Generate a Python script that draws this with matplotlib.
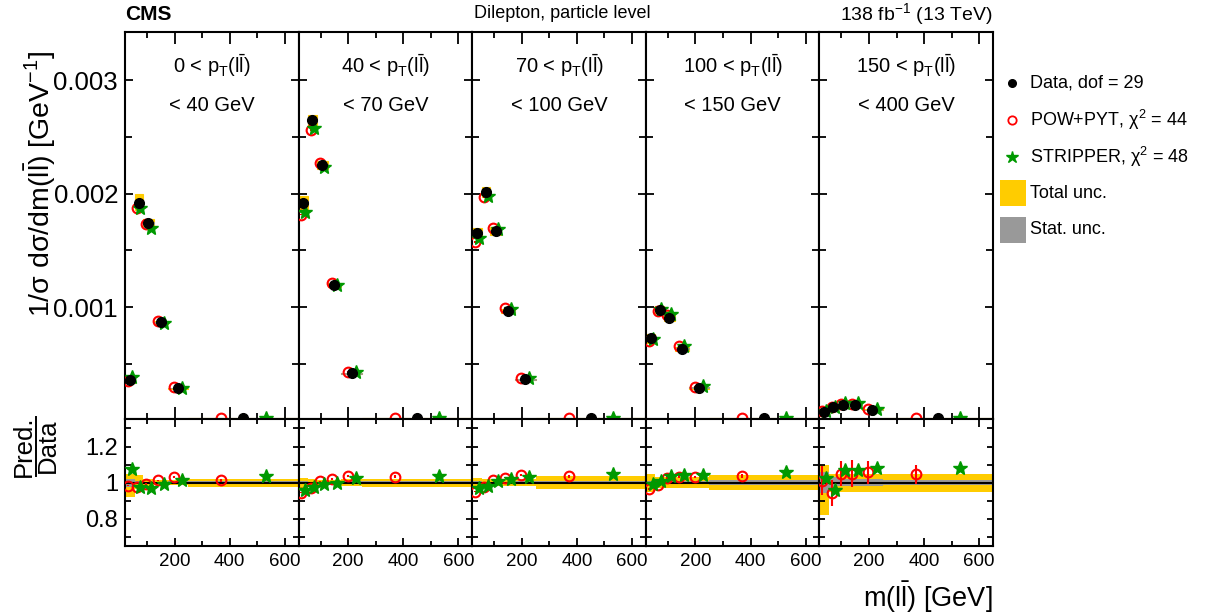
import matplotlib
matplotlib.use('Agg')
import matplotlib.pyplot as plt
import numpy as np
from matplotlib.patches import Rectangle
from matplotlib.lines import Line2D
from matplotlib.ticker import MultipleLocator, FixedLocator, FixedFormatter, FuncFormatter

plt.rcParams['font.family'] = ['Liberation Sans', 'DejaVu Sans']
plt.rcParams['mathtext.fontset'] = 'custom'
plt.rcParams['mathtext.rm'] = 'Liberation Sans'
plt.rcParams['mathtext.it'] = 'Liberation Sans:italic'
plt.rcParams['mathtext.bf'] = 'Liberation Sans:bold'
plt.rcParams['mathtext.sf'] = 'Liberation Sans'

# ---------------- data ----------------
mll_edges = [20, 55, 85, 125, 175, 250, 650]
pt_low = ['0', '40', '70', '100', '150']
pt_high = ['40', '70', '100', '150', '400']

data_vals = [
    [0.000359, 0.001921, 0.001745, 0.000868, 0.000285, 0.0000220],
    [0.001921, 0.002645, 0.002251, 0.001191, 0.000415, 0.0000240],
    [0.001657, 0.002015, 0.001671, 0.000965, 0.000362, 0.0000230],
    [0.000726, 0.000977, 0.000906, 0.000633, 0.000291, 0.0000230],
    [0.0000795, 0.000124, 0.000141, 0.000141, 0.0000944, 0.0000236],
]
powpyt_vals = [
    [0.000353, 0.001873, 0.001733, 0.000878, 0.000294, 0.0000223],
    [0.001815, 0.002560, 0.002265, 0.001212, 0.000430, 0.0000248],
    [0.001574, 0.001971, 0.001696, 0.000992, 0.000377, 0.0000238],
    [0.000701, 0.000964, 0.000931, 0.000654, 0.000300, 0.0000238],
    [0.0000803, 0.000117, 0.000148, 0.000148, 0.0000997, 0.0000247],
]
powpyt_err_rel = [
    [0.005, 0.004, 0.004, 0.005, 0.006, 0.008],
    [0.004, 0.004, 0.004, 0.005, 0.006, 0.008],
    [0.004, 0.004, 0.004, 0.005, 0.006, 0.008],
    [0.006, 0.006, 0.006, 0.007, 0.008, 0.010],
    [0.080, 0.075, 0.065, 0.070, 0.060, 0.050],
]
stripper_vals = [
    [0.000386, 0.001871, 0.001696, 0.000863, 0.000289, 0.0000228],
    [0.001842, 0.002576, 0.002231, 0.001191, 0.000425, 0.0000249],
    [0.001606, 0.001979, 0.001686, 0.000983, 0.000374, 0.0000241],
    [0.000721, 0.000986, 0.000941, 0.000658, 0.000303, 0.0000243],
    [0.0000814, 0.000119, 0.000151, 0.000151, 0.000102, 0.0000255],
]
tot_unc_up = [
    [0.045, 0.040, 0.020, 0.015, 0.015, 0.020],
    [0.028, 0.018, 0.015, 0.015, 0.018, 0.020],
    [0.025, 0.022, 0.020, 0.020, 0.020, 0.035],
    [0.047, 0.030, 0.030, 0.030, 0.030, 0.040],
    [0.100, 0.047, 0.047, 0.047, 0.047, 0.047],
]
tot_unc_dn = [
    [0.078, 0.035, 0.020, 0.015, 0.015, 0.025],
    [0.035, 0.018, 0.015, 0.015, 0.018, 0.025],
    [0.025, 0.022, 0.020, 0.020, 0.020, 0.035],
    [0.053, 0.030, 0.030, 0.030, 0.030, 0.040],
    [0.180, 0.053, 0.053, 0.053, 0.053, 0.050],
]
stat_unc = [
    [0.022, 0.006, 0.005, 0.005, 0.006, 0.008],
    [0.008, 0.005, 0.005, 0.005, 0.006, 0.008],
    [0.008, 0.005, 0.005, 0.005, 0.006, 0.010],
    [0.010, 0.008, 0.008, 0.008, 0.010, 0.012],
    [0.060, 0.030, 0.020, 0.020, 0.020, 0.015],
]

YELLOW = '#ffcc00'
GRAY = '#999999'
RED = '#ff0000'
GREEN = '#009900'

W, H = 1206, 615
fig = plt.figure(figsize=(W / 100, H / 100), dpi=100)
gs = fig.add_gridspec(2, 5, left=125 / W, right=993 / W, top=1 - 31.7 / H,
                      bottom=1 - 545.7 / H, height_ratios=[387, 126],
                      wspace=0, hspace=0)

edges = np.array(mll_edges, dtype=float)
centers = 0.5 * (edges[:-1] + edges[1:])
widths = np.diff(edges)
x_pow = centers - 0.2 * widths
x_str = centers + 0.2 * widths

for i in range(5):
    ax = fig.add_subplot(gs[0, i])
    axr = fig.add_subplot(gs[1, i])
    d = np.array(data_vals[i])
    p = np.array(powpyt_vals[i])
    s = np.array(stripper_vals[i])
    up = np.array(tot_unc_up[i])
    dn = np.array(tot_unc_dn[i])
    st = np.array(stat_unc[i])
    perr = np.array(powpyt_err_rel[i])

    for j in range(len(d)):
        lo = edges[j]
        w = widths[j]
        ax.add_patch(Rectangle((lo, d[j] * (1 - dn[j])), w, d[j] * (up[j] + dn[j]),
                               facecolor=YELLOW, edgecolor=YELLOW, lw=0.8, zorder=1))
        ax.add_patch(Rectangle((lo, d[j] * (1 - st[j])), w, d[j] * 2 * st[j],
                               facecolor=GRAY, edgecolor=GRAY, lw=0.6, zorder=2))
        axr.add_patch(Rectangle((lo, 1 - dn[j]), w, up[j] + dn[j],
                                facecolor=YELLOW, edgecolor='none', zorder=1))
        axr.add_patch(Rectangle((lo, 1 - st[j]), w, 2 * st[j],
                                facecolor=GRAY, edgecolor='none', zorder=2))

    ax.errorbar(x_pow, p, yerr=p * perr, fmt='o', ms=7, mfc='none', mec=RED,
                mew=1.5, ecolor=RED, elinewidth=1.5, capsize=0, zorder=4)
    ax.plot(x_str, s, '*', ms=10.5, color=GREEN, mec=GREEN, zorder=5)
    ax.plot(centers, d, 'o', ms=7, color='black', zorder=6)

    rp = p / d
    rs = s / d
    axr.axhline(1.0, color='black', lw=1.5, zorder=3)
    axr.errorbar(x_pow, rp, yerr=rp * perr, fmt='o', ms=7, mfc='none', mec=RED,
                 mew=1.5, ecolor=RED, elinewidth=1.5, capsize=0, zorder=4)
    axr.plot(x_str, rs, '*', ms=10.5, color=GREEN, mec=GREEN, zorder=5)

    for a in (ax, axr):
        a.set_xlim(20, 650)
        a.xaxis.set_major_locator(MultipleLocator(200))
        a.xaxis.set_minor_locator(MultipleLocator(100))
        for sp in a.spines.values():
            sp.set_linewidth(1.5)
    ax.set_ylim(0.00001, 0.003426)
    ax.yaxis.set_major_locator(MultipleLocator(0.001))
    ax.yaxis.set_minor_locator(MultipleLocator(0.0005))
    ax.yaxis.set_major_formatter(FuncFormatter(lambda v, pos: '%g' % round(v, 6)))
    ax.tick_params(axis='x', which='major', direction='in', top=True, bottom=True,
                   length=8.5, width=1.3, labelbottom=False)
    ax.tick_params(axis='x', which='minor', direction='in', top=True, bottom=True,
                   length=4.5, width=1.3)
    ax.tick_params(axis='y', which='major', direction='in', left=True, right=True,
                   length=6, width=1.3, labelsize=18.5, pad=5,
                   labelleft=(i == 0))
    ax.tick_params(axis='y', which='minor', direction='in', left=True, right=True,
                   length=5, width=1.3)

    axr.set_ylim(0.65, 1.35)
    axr.yaxis.set_major_locator(FixedLocator([0.8, 1.0, 1.2]))
    axr.yaxis.set_major_formatter(FixedFormatter(['0.8', '1', '1.2']))
    axr.yaxis.set_minor_locator(FixedLocator([0.7, 0.9, 1.1, 1.3]))
    axr.xaxis.set_major_formatter(FuncFormatter(lambda v, pos: '%d' % v))
    axr.tick_params(axis='x', which='major', direction='in', top=True, bottom=True,
                    length=6, width=1.3, labelsize=13.5, pad=5)
    axr.tick_params(axis='x', which='minor', direction='in', top=True, bottom=True,
                    length=3.5, width=1.3)
    axr.tick_params(axis='y', which='major', direction='in', left=True, right=True,
                    length=4.5, width=1.3, labelsize=17, pad=5,
                    labelleft=(i == 0))
    axr.tick_params(axis='y', which='minor', direction='in', left=True, right=True,
                    length=4.5, width=1.3)

    ax.text(0.5, 1 - (66 - 31.7) / 387, '%s < p$_{\\mathrm{T}}$(l$\\bar{\\mathrm{l}}$)' % pt_low[i],
            transform=ax.transAxes, ha='center', va='center', fontsize=14.5)
    ax.text(0.5, 1 - (105 - 31.7) / 387, '< %s GeV' % pt_high[i],
            transform=ax.transAxes, ha='center', va='center', fontsize=14.5)

# ---------------- labels ----------------
fig.text(125 / W, 1 - 14 / H, 'CMS', fontsize=15, fontweight='bold',
         ha='left', va='center')
fig.text(562 / W, 1 - 14 / H, 'Dilepton, particle level', fontsize=13,
         ha='center', va='center')
fig.text(993 / W, 1 - 14 / H, '138 fb$^{-1}$ (13 TeV)', fontsize=14,
         ha='right', va='center')
fig.text(40 / W, 1 - 184 / H,
         '1/σ dσ/dm(l$\\bar{\\mathrm{l}}$) [GeV$^{-1}$]',
         rotation=90, fontsize=20.5, ha='center', va='center')
fig.text(993 / W, 1 - 597 / H, 'm(l$\\bar{\\mathrm{l}}$) [GeV]', fontsize=19.5,
         ha='right', va='center')
fig.text(24 / W, 1 - 446 / H, 'Pred.', rotation=90, fontsize=18.5,
         ha='center', va='center')
fig.text(48 / W, 1 - 446 / H, 'Data', rotation=90, fontsize=18.5,
         ha='center', va='center')
fig.add_artist(Line2D([36 / W, 36 / W], [1 - 417 / H, 1 - 476 / H],
                      transform=fig.transFigure, color='black', lw=1.4))

# ---------------- legend ----------------
leg = fig.add_axes([0, 0, 1, 1], facecolor='none')
leg.set_xlim(0, W)
leg.set_ylim(H, 0)
leg.axis('off')
leg_labels = ['Data, dof = 29', 'POW+PYT, χ$^{2}$ = 44',
              'STRIPPER, χ$^{2}$ = 48', 'Total unc.', 'Stat. unc.']
rows = [83, 120, 157, 193, 230]
leg.plot([1012], [rows[0]], 'o', ms=5.5, color='black')
leg.plot([1012], [rows[1]], 'o', ms=6, mfc='none', mec=RED, mew=1.3)
leg.plot([1012], [rows[2]], '*', ms=9, color=GREEN)
leg.add_patch(Rectangle((1000, rows[3] - 13), 26, 26, facecolor=YELLOW, edgecolor='none'))
leg.add_patch(Rectangle((1000, rows[4] - 13), 26, 26, facecolor=GRAY, edgecolor='none'))
for r, lab in zip(rows, leg_labels):
    leg.text(1030, r, lab, fontsize=13, ha='left', va='center')

fig.savefig('out.png', dpi=100)
